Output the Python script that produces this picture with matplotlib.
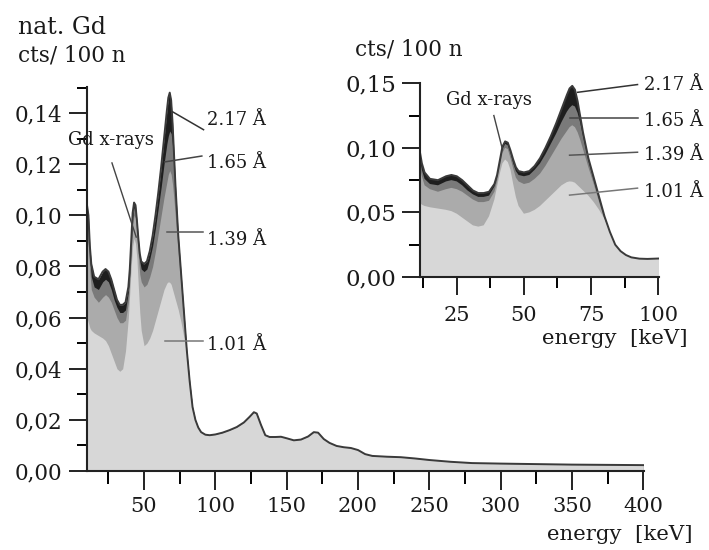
import numpy as np
import matplotlib
matplotlib.use('Agg')
import matplotlib.pyplot as plt
from matplotlib.ticker import MultipleLocator, FuncFormatter

# ---------------- data ----------------
energy_low = [10, 11, 12, 13, 15, 18, 21, 23, 25, 27, 29, 31, 33, 35, 37,
              39, 40, 41, 42, 43, 44, 45, 46, 47, 48, 50, 52, 54, 56, 58,
              60, 62, 64, 66, 67, 68, 69, 70, 71, 72, 74, 76, 78, 80, 82]

cts_217 = [0.104, 0.100, 0.088, 0.081, 0.076, 0.075, 0.078, 0.079, 0.078, 0.075,
           0.071, 0.067, 0.065, 0.065, 0.066, 0.072, 0.079, 0.090, 0.101, 0.105,
           0.104, 0.098, 0.091, 0.085, 0.082, 0.081, 0.082, 0.086, 0.092, 0.100,
           0.109, 0.119, 0.130, 0.141, 0.146, 0.148, 0.145, 0.136, 0.124, 0.112,
           0.092, 0.077, 0.062, 0.047, 0.035]
cts_165 = [0.098, 0.094, 0.083, 0.076, 0.072, 0.071, 0.074, 0.075, 0.074, 0.071,
           0.067, 0.064, 0.062, 0.062, 0.063, 0.070, 0.077, 0.088, 0.099, 0.103,
           0.102, 0.096, 0.088, 0.082, 0.079, 0.078, 0.079, 0.083, 0.088, 0.095,
           0.103, 0.111, 0.120, 0.128, 0.131, 0.133, 0.132, 0.127, 0.119, 0.109,
           0.090, 0.075, 0.060, 0.046, 0.035]
cts_139 = [0.092, 0.088, 0.078, 0.071, 0.068, 0.066, 0.068, 0.069, 0.068, 0.066,
           0.063, 0.060, 0.058, 0.058, 0.059, 0.066, 0.074, 0.085, 0.096, 0.100,
           0.099, 0.092, 0.084, 0.077, 0.074, 0.072, 0.073, 0.076, 0.080, 0.086,
           0.093, 0.100, 0.107, 0.113, 0.116, 0.1175, 0.116, 0.112, 0.106, 0.099,
           0.085, 0.072, 0.058, 0.045, 0.035]
cts_101 = [0.060, 0.058, 0.056, 0.055, 0.054, 0.053, 0.052, 0.051, 0.049, 0.046,
           0.043, 0.040, 0.039, 0.040, 0.047, 0.060, 0.070, 0.080, 0.088, 0.091,
           0.089, 0.083, 0.072, 0.062, 0.055, 0.049, 0.050, 0.052, 0.055, 0.059,
           0.063, 0.067, 0.071, 0.0735, 0.074, 0.0738, 0.073, 0.071, 0.069, 0.067,
           0.063, 0.058, 0.052, 0.045, 0.035]

# above ~82 keV the four spectra coincide
energy_tail = [84, 86, 88, 90, 93, 96, 100, 105, 110, 115, 120, 124, 127, 129, 132,
               135, 138, 142, 146, 150, 155, 160, 165, 169, 172, 176, 180, 185, 190,
               195, 200, 205, 210, 220, 230, 240, 250, 265, 280, 300, 325, 350, 375, 400]
cts_tail = [0.025, 0.020, 0.017, 0.0152, 0.0142, 0.014, 0.0143, 0.015, 0.016, 0.0172,
            0.019, 0.0212, 0.023, 0.0225, 0.018, 0.014, 0.0133, 0.0133, 0.0134, 0.0128,
            0.012, 0.0123, 0.0135, 0.0152, 0.015, 0.0125, 0.011, 0.0098, 0.0093, 0.009,
            0.0082, 0.0066, 0.0059, 0.0056, 0.0054, 0.0049, 0.0043, 0.0036, 0.0031,
            0.0029, 0.0027, 0.0025, 0.0024, 0.0023]

wavelength_labels = ['2.17 Å', '1.65 Å', '1.39 Å', '1.01 Å']
layer_colors = ['#1e1e1e', '#7a7a7a', '#ababab', '#d7d7d7']

main_xticks = [50, 100, 150, 200, 250, 300, 350, 400]
inset_xticks = [25, 50, 75, 100]

# ---------------- figure ----------------
plt.rcParams['font.family'] = ['DejaVu Serif']
TXT = '#1a1a1a'

energy = np.concatenate([energy_low, energy_tail])
layers = [np.concatenate([c, cts_tail]) for c in (cts_217, cts_165, cts_139, cts_101)]

fig = plt.figure(figsize=(7.09, 5.5), dpi=100)
W, H = 709.0, 550.0
ax = fig.add_axes([87 / W, 1 - 471 / H, 557 / W, 384 / H])
axin = fig.add_axes([420 / W, 1 - 277 / H, 239 / W, 194 / H])

comma = FuncFormatter(lambda v, p: f"{v:.2f}".replace('.', ','))

for a in (ax, axin):
    for vals, col in zip(layers, layer_colors):
        a.fill_between(energy, 0, vals, color=col, lw=0)
    a.plot(energy, layers[0], color='#3a3a3a', lw=1.4)
    a.set_facecolor('white')
    for s in ('top', 'right'):
        a.spines[s].set_visible(False)
    for s in ('left', 'bottom'):
        a.spines[s].set_linewidth(1.5)
        a.spines[s].set_color('#222222')
    a.yaxis.set_major_formatter(comma)
    a.tick_params(colors='#222222', labelcolor=TXT)

# main axes
ax.set_xlim(10, 400.5)
ax.set_ylim(0, 0.1502)
ax.set_xticks(main_xticks)
ax.xaxis.set_minor_locator(MultipleLocator(25))
ax.yaxis.set_major_locator(MultipleLocator(0.02))
ax.yaxis.set_minor_locator(MultipleLocator(0.01))
ax.tick_params(axis='x', which='major', direction='out', length=14, width=1.4, labelsize=15, pad=5)
ax.tick_params(axis='x', which='minor', direction='out', length=9, width=1.4)
ax.tick_params(axis='y', which='major', direction='out', length=13, width=1.4, labelsize=15.5, pad=5)
ax.tick_params(axis='y', which='minor', direction='out', length=7, width=1.4)

# inset axes
axin.set_xlim(11.3, 100.3)
axin.set_ylim(0, 0.1502)
axin.set_xticks(inset_xticks)
axin.xaxis.set_minor_locator(MultipleLocator(12.5))
axin.yaxis.set_major_locator(MultipleLocator(0.05))
axin.yaxis.set_minor_locator(MultipleLocator(0.025))
axin.tick_params(axis='x', which='major', direction='out', length=13, width=1.4, labelsize=15, pad=8)
axin.tick_params(axis='x', which='minor', direction='out', length=8, width=1.4)
axin.tick_params(axis='y', which='major', direction='out', length=13, width=1.4, labelsize=16.5, pad=4)
axin.tick_params(axis='y', which='minor', direction='out', length=8, width=1.4)

# titles / axis labels
fig.text(18 / W, 1 - 27 / H, 'nat. Gd', fontsize=17, ha='left', va='center', color=TXT)
fig.text(18 / W, 1 - 56 / H, 'cts/ 100 n', fontsize=15.5, ha='left', va='center', color=TXT)
fig.text(355 / W, 1 - 50 / H, 'cts/ 100 n', fontsize=15.5, ha='left', va='center', color=TXT)
fig.text(693 / W, 1 - 535 / H, 'energy  [keV]', fontsize=15.3, ha='right', va='center', color=TXT)
fig.text(688 / W, 1 - 338 / H, 'energy  [keV]', fontsize=15.3, ha='right', va='center', color=TXT)

# leader lines and labels, main axes
main_lines = [((70, 0.1405), (91.7, 0.1335)), ((64.5, 0.1209), (90.5, 0.1232)),
              ((65.9, 0.0935), (91.0, 0.0935)), ((64.5, 0.0509), (91.0, 0.0509))]
main_text_y = [0.1373, 0.1205, 0.0904, 0.0493]
line_cols = ['#333333', '#444444', '#555555', '#777777']
for (p0, p1), ty, lab, lc in zip(main_lines, main_text_y, wavelength_labels, line_cols):
    ax.plot([p0[0], p1[0]], [p0[1], p1[1]], color=lc, lw=1.1, clip_on=False)
    ax.text(94.0, ty, lab, fontsize=13, ha='left', va='center', color=TXT)
ax.plot([27.5, 44.5], [0.1205, 0.0915], color='#444444', lw=1.0, clip_on=False)
ax.text(26.8, 0.1295, 'Gd x-rays', fontsize=13, ha='center', va='center', color=TXT)

# leader lines and labels, inset
in_lines = [((70, 0.143), (92.3, 0.149)), ((67, 0.123), (92.3, 0.123)),
            ((67, 0.0943), (92.3, 0.0966)), ((67, 0.0634), (92.3, 0.0688))]
in_text_y = [0.1484, 0.1206, 0.0943, 0.0657]
for (p0, p1), ty, lab, lc in zip(in_lines, in_text_y, wavelength_labels, line_cols):
    axin.plot([p0[0], p1[0]], [p0[1], p1[1]], color=lc, lw=1.1, clip_on=False)
    axin.text(94.9, ty, lab, fontsize=13, ha='left', va='center', color=TXT)
axin.plot([38.8, 41.8], [0.125, 0.1005], color='#444444', lw=1.0, clip_on=False)
axin.text(36.9, 0.1368, 'Gd x-rays', fontsize=13, ha='center', va='center', color=TXT)

fig.savefig('out.png', dpi=100)
